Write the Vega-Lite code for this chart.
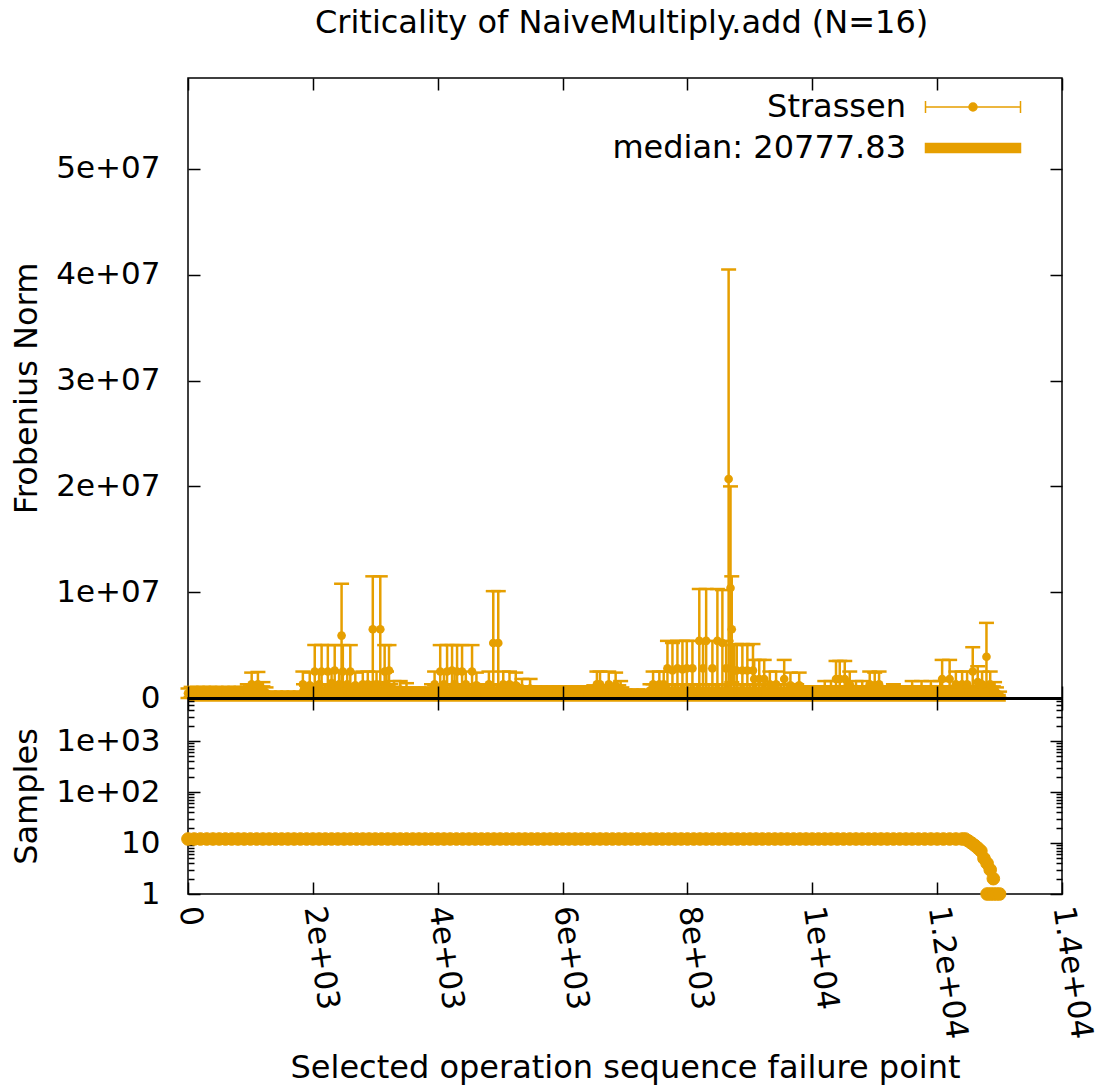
{
"$schema":"https://vega.github.io/schema/vega-lite/v6.json",
"background":"white",
"padding":{"left":10,"top":6,"right":0,"bottom":5},
"title":{"text":"Criticality of NaiveMultiply.add (N=16)","fontSize":32,"font":"DejaVu Sans","fontWeight":"normal","offset":37,"dx":68,"color":"black","anchor":"middle"},
"config":{
 "view":{"stroke":"black","strokeWidth":1.5},
 "axis":{"labelFont":"DejaVu Sans","titleFont":"DejaVu Sans","labelFontSize":31,"titleFontSize":32,"titleFontWeight":"normal","labelColor":"black","titleColor":"black","tickColor":"black","tickWidth":1.5,"domain":false,"grid":false,"labelOverlap":false,"labelFlush":false,"labelBound":false}
},
"datasets":{
"median":[{"x0":0,"x1":13100,"v":20777.83,"series":"median: 20777.83"}],
"errs":[
{"x":0,"m":4.5e5,"lo":0,"hi":9e5},{"x":50,"m":5e5,"lo":1e5,"hi":1.05e6},{"x":100,"m":4.5e5,"lo":0,"hi":9e5},{"x":150,"m":5e5,"lo":1e5,"hi":1.05e6},{"x":200,"m":4.5e5,"lo":0,"hi":9e5},{"x":250,"m":5e5,"lo":1e5,"hi":1.05e6},{"x":300,"m":4.5e5,"lo":0,"hi":9e5},{"x":350,"m":5e5,"lo":1e5,"hi":1.05e6},{"x":400,"m":4.5e5,"lo":0,"hi":9e5},{"x":450,"m":5e5,"lo":1e5,"hi":1.05e6},
{"x":500,"m":4.5e5,"lo":0,"hi":9e5},{"x":550,"m":5e5,"lo":1e5,"hi":1.05e6},{"x":600,"m":4.5e5,"lo":0,"hi":9e5},{"x":650,"m":5e5,"lo":1e5,"hi":1.05e6},{"x":700,"m":4.5e5,"lo":0,"hi":9e5},{"x":750,"m":5e5,"lo":1e5,"hi":1.05e6},{"x":800,"m":4.5e5,"lo":0,"hi":9e5},{"x":850,"m":5e5,"lo":1e5,"hi":1.05e6},{"x":900,"m":4.5e5,"lo":0,"hi":9e5},{"x":950,"m":5e5,"lo":1e5,"hi":1.05e6},
{"x":1000,"m":6e5,"lo":1e5,"hi":1.1e6},{"x":1050,"m":5e5,"lo":0,"hi":1e6},{"x":1100,"m":6e5,"lo":1e5,"hi":1.1e6},{"x":1150,"m":5e5,"lo":0,"hi":1e6},{"x":1200,"m":6e5,"lo":1e5,"hi":1.1e6},{"x":1250,"m":5e5,"lo":0,"hi":1e6},
{"x":1300,"m":3e5,"lo":0,"hi":6e5},{"x":1350,"m":2.5e5,"lo":0,"hi":5e5},{"x":1400,"m":3e5,"lo":0,"hi":6e5},{"x":1450,"m":2.5e5,"lo":0,"hi":5e5},{"x":1500,"m":3e5,"lo":0,"hi":6e5},{"x":1550,"m":2.5e5,"lo":0,"hi":5e5},{"x":1600,"m":3e5,"lo":0,"hi":6e5},{"x":1650,"m":2.5e5,"lo":0,"hi":5e5},{"x":1700,"m":3e5,"lo":0,"hi":6e5},{"x":1750,"m":2.5e5,"lo":0,"hi":5e5},{"x":1800,"m":3e5,"lo":0,"hi":6e5},
{"x":1850,"m":7e5,"lo":1e5,"hi":1.3e6},{"x":1900,"m":6e5,"lo":0,"hi":1.2e6},{"x":1950,"m":7e5,"lo":1e5,"hi":1.3e6},{"x":2000,"m":6e5,"lo":0,"hi":1.2e6},{"x":2050,"m":7e5,"lo":1e5,"hi":1.3e6},{"x":2100,"m":6e5,"lo":0,"hi":1.2e6},{"x":2150,"m":7e5,"lo":1e5,"hi":1.3e6},{"x":2200,"m":6e5,"lo":0,"hi":1.2e6},{"x":2250,"m":7e5,"lo":1e5,"hi":1.3e6},{"x":2300,"m":6e5,"lo":0,"hi":1.2e6},
{"x":2350,"m":7e5,"lo":1e5,"hi":1.3e6},{"x":2400,"m":6e5,"lo":0,"hi":1.2e6},{"x":2450,"m":7e5,"lo":1e5,"hi":1.3e6},{"x":2500,"m":6e5,"lo":0,"hi":1.2e6},{"x":2550,"m":7e5,"lo":1e5,"hi":1.3e6},{"x":2600,"m":6e5,"lo":0,"hi":1.2e6},{"x":2650,"m":7e5,"lo":1e5,"hi":1.3e6},{"x":2700,"m":6e5,"lo":0,"hi":1.2e6},{"x":2750,"m":7e5,"lo":1e5,"hi":1.3e6},{"x":2800,"m":6e5,"lo":0,"hi":1.2e6},
{"x":2850,"m":7e5,"lo":1e5,"hi":1.3e6},{"x":2900,"m":6e5,"lo":0,"hi":1.2e6},{"x":2950,"m":7e5,"lo":1e5,"hi":1.3e6},{"x":3000,"m":6e5,"lo":0,"hi":1.2e6},{"x":3050,"m":7e5,"lo":1e5,"hi":1.3e6},{"x":3100,"m":6e5,"lo":0,"hi":1.2e6},{"x":3150,"m":7e5,"lo":1e5,"hi":1.3e6},{"x":3200,"m":6e5,"lo":0,"hi":1.2e6},{"x":3250,"m":7e5,"lo":1e5,"hi":1.3e6},
{"x":3300,"m":5e5,"lo":0,"hi":1e6},{"x":3350,"m":4.5e5,"lo":0,"hi":9e5},{"x":3400,"m":5e5,"lo":0,"hi":1e6},{"x":3450,"m":4.5e5,"lo":0,"hi":9e5},{"x":3500,"m":5e5,"lo":0,"hi":1e6},{"x":3550,"m":4.5e5,"lo":0,"hi":9e5},{"x":3600,"m":5e5,"lo":0,"hi":1e6},{"x":3650,"m":4.5e5,"lo":0,"hi":9e5},{"x":3700,"m":5e5,"lo":0,"hi":1e6},{"x":3750,"m":4.5e5,"lo":0,"hi":9e5},{"x":3800,"m":5e5,"lo":0,"hi":1e6},{"x":3850,"m":4.5e5,"lo":0,"hi":9e5},
{"x":3900,"m":7e5,"lo":1e5,"hi":1.3e6},{"x":3950,"m":6e5,"lo":0,"hi":1.2e6},{"x":4000,"m":7e5,"lo":1e5,"hi":1.3e6},{"x":4050,"m":6e5,"lo":0,"hi":1.2e6},{"x":4100,"m":7e5,"lo":1e5,"hi":1.3e6},{"x":4150,"m":6e5,"lo":0,"hi":1.2e6},{"x":4200,"m":7e5,"lo":1e5,"hi":1.3e6},{"x":4250,"m":6e5,"lo":0,"hi":1.2e6},{"x":4300,"m":7e5,"lo":1e5,"hi":1.3e6},{"x":4350,"m":6e5,"lo":0,"hi":1.2e6},
{"x":4400,"m":7e5,"lo":1e5,"hi":1.3e6},{"x":4450,"m":6e5,"lo":0,"hi":1.2e6},{"x":4500,"m":7e5,"lo":1e5,"hi":1.3e6},{"x":4550,"m":6e5,"lo":0,"hi":1.2e6},{"x":4600,"m":7e5,"lo":1e5,"hi":1.3e6},{"x":4650,"m":6e5,"lo":0,"hi":1.2e6},{"x":4700,"m":7e5,"lo":1e5,"hi":1.3e6},{"x":4750,"m":6e5,"lo":0,"hi":1.2e6},{"x":4800,"m":7e5,"lo":1e5,"hi":1.3e6},{"x":4850,"m":6e5,"lo":0,"hi":1.2e6},
{"x":4900,"m":7e5,"lo":1e5,"hi":1.3e6},{"x":4950,"m":6e5,"lo":0,"hi":1.2e6},{"x":5000,"m":7e5,"lo":1e5,"hi":1.3e6},{"x":5050,"m":6e5,"lo":0,"hi":1.2e6},{"x":5100,"m":7e5,"lo":1e5,"hi":1.3e6},{"x":5150,"m":6e5,"lo":0,"hi":1.2e6},{"x":5200,"m":7e5,"lo":1e5,"hi":1.3e6},{"x":5250,"m":6e5,"lo":0,"hi":1.2e6},
{"x":5300,"m":5e5,"lo":0,"hi":1e6},{"x":5350,"m":5.5e5,"lo":0,"hi":1.1e6},{"x":5400,"m":5e5,"lo":0,"hi":1e6},{"x":5450,"m":5.5e5,"lo":0,"hi":1.1e6},{"x":5500,"m":5e5,"lo":0,"hi":1e6},{"x":5550,"m":5.5e5,"lo":0,"hi":1.1e6},{"x":5600,"m":5e5,"lo":0,"hi":1e6},{"x":5650,"m":5.5e5,"lo":0,"hi":1.1e6},{"x":5700,"m":5e5,"lo":0,"hi":1e6},{"x":5750,"m":5.5e5,"lo":0,"hi":1.1e6},{"x":5800,"m":5e5,"lo":0,"hi":1e6},{"x":5850,"m":5.5e5,"lo":0,"hi":1.1e6},
{"x":5900,"m":5e5,"lo":0,"hi":1e6},{"x":5950,"m":5.5e5,"lo":0,"hi":1.1e6},{"x":6000,"m":5e5,"lo":0,"hi":1e6},{"x":6050,"m":5.5e5,"lo":0,"hi":1.1e6},{"x":6100,"m":5e5,"lo":0,"hi":1e6},{"x":6150,"m":5.5e5,"lo":0,"hi":1.1e6},{"x":6200,"m":5e5,"lo":0,"hi":1e6},{"x":6250,"m":5.5e5,"lo":0,"hi":1.1e6},{"x":6300,"m":5e5,"lo":0,"hi":1e6},{"x":6350,"m":5.5e5,"lo":0,"hi":1.1e6},{"x":6400,"m":5e5,"lo":0,"hi":1e6},{"x":6450,"m":5.5e5,"lo":0,"hi":1.1e6},
{"x":6500,"m":6e5,"lo":1e5,"hi":1.2e6},{"x":6550,"m":5e5,"lo":0,"hi":1e6},{"x":6600,"m":6e5,"lo":1e5,"hi":1.2e6},{"x":6650,"m":5e5,"lo":0,"hi":1e6},{"x":6700,"m":6e5,"lo":1e5,"hi":1.2e6},{"x":6750,"m":5e5,"lo":0,"hi":1e6},{"x":6800,"m":6e5,"lo":1e5,"hi":1.2e6},{"x":6850,"m":5e5,"lo":0,"hi":1e6},{"x":6900,"m":6e5,"lo":1e5,"hi":1.2e6},{"x":6950,"m":5e5,"lo":0,"hi":1e6},
{"x":7000,"m":4e5,"lo":0,"hi":8e5},{"x":7050,"m":3.5e5,"lo":0,"hi":7e5},{"x":7100,"m":4e5,"lo":0,"hi":8e5},{"x":7150,"m":3.5e5,"lo":0,"hi":7e5},{"x":7200,"m":4e5,"lo":0,"hi":8e5},{"x":7250,"m":3.5e5,"lo":0,"hi":7e5},{"x":7300,"m":4e5,"lo":0,"hi":8e5},{"x":7350,"m":3.5e5,"lo":0,"hi":7e5},
{"x":7400,"m":7e5,"lo":1e5,"hi":1.3e6},{"x":7450,"m":6.5e5,"lo":0,"hi":1.3e6},{"x":7500,"m":7e5,"lo":1e5,"hi":1.3e6},{"x":7550,"m":6.5e5,"lo":0,"hi":1.3e6},{"x":7600,"m":7e5,"lo":1e5,"hi":1.3e6},{"x":7650,"m":6.5e5,"lo":0,"hi":1.3e6},{"x":7700,"m":7e5,"lo":1e5,"hi":1.3e6},{"x":7750,"m":6.5e5,"lo":0,"hi":1.3e6},{"x":7800,"m":7e5,"lo":1e5,"hi":1.3e6},{"x":7850,"m":6.5e5,"lo":0,"hi":1.3e6},
{"x":7900,"m":7e5,"lo":1e5,"hi":1.3e6},{"x":7950,"m":6.5e5,"lo":0,"hi":1.3e6},{"x":8000,"m":7e5,"lo":1e5,"hi":1.3e6},{"x":8050,"m":6.5e5,"lo":0,"hi":1.3e6},{"x":8100,"m":7e5,"lo":1e5,"hi":1.3e6},{"x":8150,"m":6.5e5,"lo":0,"hi":1.3e6},{"x":8200,"m":7e5,"lo":1e5,"hi":1.3e6},{"x":8250,"m":6.5e5,"lo":0,"hi":1.3e6},{"x":8300,"m":7e5,"lo":1e5,"hi":1.3e6},{"x":8350,"m":6.5e5,"lo":0,"hi":1.3e6},
{"x":8400,"m":7e5,"lo":1e5,"hi":1.3e6},{"x":8450,"m":6.5e5,"lo":0,"hi":1.3e6},{"x":8500,"m":7e5,"lo":1e5,"hi":1.3e6},{"x":8550,"m":6.5e5,"lo":0,"hi":1.3e6},{"x":8600,"m":7e5,"lo":1e5,"hi":1.3e6},{"x":8650,"m":6.5e5,"lo":0,"hi":1.3e6},{"x":8700,"m":7e5,"lo":1e5,"hi":1.3e6},{"x":8750,"m":6.5e5,"lo":0,"hi":1.3e6},{"x":8800,"m":7e5,"lo":1e5,"hi":1.3e6},{"x":8850,"m":6.5e5,"lo":0,"hi":1.3e6},
{"x":8900,"m":7e5,"lo":1e5,"hi":1.3e6},{"x":8950,"m":6.5e5,"lo":0,"hi":1.3e6},{"x":9000,"m":7e5,"lo":1e5,"hi":1.3e6},{"x":9050,"m":6.5e5,"lo":0,"hi":1.3e6},{"x":9100,"m":7e5,"lo":1e5,"hi":1.3e6},{"x":9150,"m":6.5e5,"lo":0,"hi":1.3e6},{"x":9200,"m":7e5,"lo":1e5,"hi":1.3e6},{"x":9250,"m":6.5e5,"lo":0,"hi":1.3e6},{"x":9300,"m":7e5,"lo":1e5,"hi":1.3e6},{"x":9350,"m":6.5e5,"lo":0,"hi":1.3e6},
{"x":9400,"m":7e5,"lo":1e5,"hi":1.3e6},{"x":9450,"m":6.5e5,"lo":0,"hi":1.3e6},{"x":9500,"m":7e5,"lo":1e5,"hi":1.3e6},{"x":9550,"m":6.5e5,"lo":0,"hi":1.3e6},{"x":9600,"m":7e5,"lo":1e5,"hi":1.3e6},{"x":9650,"m":6.5e5,"lo":0,"hi":1.3e6},{"x":9700,"m":7e5,"lo":1e5,"hi":1.3e6},{"x":9750,"m":6.5e5,"lo":0,"hi":1.3e6},
{"x":9800,"m":5.5e5,"lo":0,"hi":1.1e6},{"x":9850,"m":5e5,"lo":0,"hi":1e6},{"x":9900,"m":5.5e5,"lo":0,"hi":1.1e6},{"x":9950,"m":5e5,"lo":0,"hi":1e6},{"x":10000,"m":5.5e5,"lo":0,"hi":1.1e6},{"x":10050,"m":5e5,"lo":0,"hi":1e6},{"x":10100,"m":5.5e5,"lo":0,"hi":1.1e6},{"x":10150,"m":5e5,"lo":0,"hi":1e6},{"x":10200,"m":5.5e5,"lo":0,"hi":1.1e6},{"x":10250,"m":5e5,"lo":0,"hi":1e6},
{"x":10300,"m":5.5e5,"lo":0,"hi":1.1e6},{"x":10350,"m":5e5,"lo":0,"hi":1e6},{"x":10400,"m":5.5e5,"lo":0,"hi":1.1e6},{"x":10450,"m":5e5,"lo":0,"hi":1e6},{"x":10500,"m":5.5e5,"lo":0,"hi":1.1e6},{"x":10550,"m":5e5,"lo":0,"hi":1e6},{"x":10600,"m":5.5e5,"lo":0,"hi":1.1e6},{"x":10650,"m":5e5,"lo":0,"hi":1e6},{"x":10700,"m":5.5e5,"lo":0,"hi":1.1e6},{"x":10750,"m":5e5,"lo":0,"hi":1e6},
{"x":10800,"m":5.5e5,"lo":0,"hi":1.1e6},{"x":10850,"m":5e5,"lo":0,"hi":1e6},{"x":10900,"m":5.5e5,"lo":0,"hi":1.1e6},{"x":10950,"m":5e5,"lo":0,"hi":1e6},{"x":11000,"m":5.5e5,"lo":0,"hi":1.1e6},{"x":11050,"m":5e5,"lo":0,"hi":1e6},{"x":11100,"m":5.5e5,"lo":0,"hi":1.1e6},{"x":11150,"m":5e5,"lo":0,"hi":1e6},{"x":11200,"m":5.5e5,"lo":0,"hi":1.1e6},{"x":11250,"m":5e5,"lo":0,"hi":1e6},
{"x":11300,"m":5.5e5,"lo":0,"hi":1.1e6},{"x":11350,"m":5e5,"lo":0,"hi":1e6},{"x":11400,"m":5.5e5,"lo":0,"hi":1.1e6},{"x":11450,"m":5e5,"lo":0,"hi":1e6},{"x":11500,"m":5.5e5,"lo":0,"hi":1.1e6},{"x":11550,"m":5e5,"lo":0,"hi":1e6},{"x":11600,"m":5.5e5,"lo":0,"hi":1.1e6},{"x":11650,"m":5e5,"lo":0,"hi":1e6},{"x":11700,"m":5.5e5,"lo":0,"hi":1.1e6},{"x":11750,"m":5e5,"lo":0,"hi":1e6},
{"x":11800,"m":5.5e5,"lo":0,"hi":1.1e6},{"x":11850,"m":5e5,"lo":0,"hi":1e6},{"x":11900,"m":5.5e5,"lo":0,"hi":1.1e6},{"x":11950,"m":5e5,"lo":0,"hi":1e6},{"x":12000,"m":5.5e5,"lo":0,"hi":1.1e6},{"x":12050,"m":5e5,"lo":0,"hi":1e6},{"x":12100,"m":5.5e5,"lo":0,"hi":1.1e6},{"x":12150,"m":5e5,"lo":0,"hi":1e6},{"x":12200,"m":5.5e5,"lo":0,"hi":1.1e6},{"x":12250,"m":5e5,"lo":0,"hi":1e6},
{"x":12300,"m":5.5e5,"lo":0,"hi":1.1e6},{"x":12350,"m":5e5,"lo":0,"hi":1e6},{"x":12400,"m":5.5e5,"lo":0,"hi":1.1e6},{"x":12450,"m":5e5,"lo":0,"hi":1e6},{"x":12500,"m":5.5e5,"lo":0,"hi":1.1e6},{"x":12550,"m":5e5,"lo":0,"hi":1e6},{"x":12600,"m":5.5e5,"lo":0,"hi":1.1e6},{"x":12650,"m":5e5,"lo":0,"hi":1e6},{"x":12700,"m":5.5e5,"lo":0,"hi":1.1e6},{"x":12750,"m":5e5,"lo":0,"hi":1e6},
{"x":12800,"m":5.5e5,"lo":0,"hi":1.1e6},{"x":12850,"m":5e5,"lo":0,"hi":1e6},{"x":12900,"m":5.5e5,"lo":0,"hi":1.1e6},{"x":12950,"m":5e5,"lo":0,"hi":1e6},{"x":13000,"m":3e5,"lo":0,"hi":6e5},
{"x":1020,"m":1.3e6,"lo":2e5,"hi":2.4e6},{"x":1120,"m":1.3e6,"lo":2e5,"hi":2.46e6},{"x":1200,"m":8e5,"lo":1e5,"hi":1.5e6},{"x":950,"m":7e5,"lo":1e5,"hi":1.3e6},
{"x":1840,"m":1.3e6,"lo":1e5,"hi":2.5e6},{"x":1950,"m":1.2e6,"lo":0,"hi":2.4e6},{"x":2030,"m":2.5e6,"lo":0,"hi":5e6},{"x":2100,"m":1.3e6,"lo":1e5,"hi":2.5e6},{"x":2140,"m":2.5e6,"lo":0,"hi":5e6},{"x":2240,"m":2.5e6,"lo":0,"hi":5e6},{"x":2300,"m":1.4e6,"lo":2e5,"hi":2.6e6},{"x":2350,"m":2.6e6,"lo":2e5,"hi":5e6},{"x":2420,"m":1.3e6,"lo":1e5,"hi":2.5e6},{"x":2460,"m":5.9e6,"lo":1e6,"hi":1.08e7},{"x":2480,"m":2.5e6,"lo":0,"hi":5e6},{"x":2550,"m":1.3e6,"lo":1e5,"hi":2.5e6},{"x":2600,"m":2.5e6,"lo":0,"hi":5e6},{"x":2680,"m":1.2e6,"lo":0,"hi":2.4e6},
{"x":2800,"m":1.3e6,"lo":1e5,"hi":2.5e6},{"x":2880,"m":1.3e6,"lo":1e5,"hi":2.5e6},{"x":2960,"m":6.5e6,"lo":1.5e6,"hi":1.15e7},{"x":3020,"m":1.3e6,"lo":1e5,"hi":2.5e6},{"x":3080,"m":6.5e6,"lo":1.5e6,"hi":1.15e7},{"x":3150,"m":2.5e6,"lo":0,"hi":5e6},{"x":3180,"m":1.3e6,"lo":1e5,"hi":2.5e6},{"x":3220,"m":2.6e6,"lo":2e5,"hi":5e6},{"x":3300,"m":8e5,"lo":0,"hi":1.6e6},{"x":3400,"m":8e5,"lo":0,"hi":1.6e6},{"x":3500,"m":7e5,"lo":0,"hi":1.4e6},
{"x":3950,"m":1.3e6,"lo":1e5,"hi":2.5e6},{"x":4040,"m":2.5e6,"lo":0,"hi":5e6},{"x":4100,"m":1.3e6,"lo":1e5,"hi":2.5e6},{"x":4150,"m":2.5e6,"lo":0,"hi":5e6},{"x":4230,"m":2.6e6,"lo":2e5,"hi":5e6},{"x":4270,"m":1.3e6,"lo":1e5,"hi":2.5e6},{"x":4310,"m":2.5e6,"lo":0,"hi":5e6},{"x":4390,"m":2.5e6,"lo":0,"hi":5e6},{"x":4450,"m":1.3e6,"lo":1e5,"hi":2.5e6},{"x":4550,"m":2.5e6,"lo":0,"hi":5e6},{"x":4620,"m":1.2e6,"lo":0,"hi":2.4e6},
{"x":4820,"m":1.3e6,"lo":1e5,"hi":2.5e6},{"x":4890,"m":5.2e6,"lo":3e5,"hi":1.01e7},{"x":4970,"m":5.2e6,"lo":3e5,"hi":1.01e7},{"x":5050,"m":1.3e6,"lo":1e5,"hi":2.5e6},{"x":5150,"m":1.3e6,"lo":1e5,"hi":2.5e6},{"x":5250,"m":1.2e6,"lo":0,"hi":2.4e6},{"x":5350,"m":9e5,"lo":0,"hi":1.8e6},{"x":5480,"m":9e5,"lo":0,"hi":1.8e6},
{"x":6550,"m":1.3e6,"lo":1e5,"hi":2.5e6},{"x":6600,"m":1.3e6,"lo":1e5,"hi":2.5e6},{"x":6740,"m":1.3e6,"lo":1e5,"hi":2.5e6},{"x":6850,"m":1.2e6,"lo":0,"hi":2.4e6},{"x":6930,"m":8e5,"lo":0,"hi":1.6e6},
{"x":7450,"m":1.3e6,"lo":1e5,"hi":2.5e6},{"x":7550,"m":1.3e6,"lo":1e5,"hi":2.5e6},{"x":7620,"m":1.3e6,"lo":1e5,"hi":2.5e6},{"x":7680,"m":2.8e6,"lo":2e5,"hi":5.4e6},{"x":7760,"m":2.6e6,"lo":0,"hi":5.2e6},{"x":7840,"m":2.8e6,"lo":2e5,"hi":5.4e6},{"x":7920,"m":2.7e6,"lo":0,"hi":5.4e6},{"x":7990,"m":2.8e6,"lo":2e5,"hi":5.4e6},{"x":8080,"m":2.8e6,"lo":2e5,"hi":5.4e6},{"x":8190,"m":5.4e6,"lo":5e5,"hi":1.03e7},{"x":8250,"m":2.8e6,"lo":2e5,"hi":5.4e6},{"x":8300,"m":5.4e6,"lo":5e5,"hi":1.03e7},{"x":8400,"m":2.8e6,"lo":2e5,"hi":5.4e6},{"x":8480,"m":5.4e6,"lo":5e5,"hi":1.03e7},{"x":8560,"m":5.2e6,"lo":2e5,"hi":1.02e7},{"x":8620,"m":2.8e6,"lo":2e5,"hi":5.4e6},
{"x":8660,"m":2.07e7,"lo":9e5,"hi":4.05e7},{"x":8690,"m":1.04e7,"lo":8e5,"hi":2e7},{"x":8710,"m":6.5e6,"lo":1.5e6,"hi":1.15e7},{"x":8750,"m":2.6e6,"lo":2e5,"hi":5e6},{"x":8790,"m":2.6e6,"lo":2e5,"hi":5.1e6},{"x":8880,"m":2.6e6,"lo":2e5,"hi":5.1e6},{"x":8960,"m":2.6e6,"lo":2e5,"hi":5e6},{"x":9050,"m":2.6e6,"lo":2e5,"hi":5.1e6},{"x":9070,"m":1.8e6,"lo":0,"hi":3.6e6},{"x":9150,"m":1.8e6,"lo":0,"hi":3.6e6},{"x":9230,"m":1.8e6,"lo":0,"hi":3.6e6},{"x":9320,"m":1.3e6,"lo":1e5,"hi":2.5e6},{"x":9420,"m":1.3e6,"lo":1e5,"hi":2.5e6},{"x":9550,"m":1.8e6,"lo":0,"hi":3.6e6},{"x":9650,"m":1.2e6,"lo":0,"hi":2.4e6},{"x":9790,"m":1.2e6,"lo":0,"hi":2.4e6},{"x":9950,"m":6e5,"lo":1e5,"hi":1.1e6},{"x":10100,"m":6e5,"lo":1e5,"hi":1.1e6},
{"x":10200,"m":8e5,"lo":0,"hi":1.6e6},{"x":10300,"m":8e5,"lo":0,"hi":1.6e6},{"x":10380,"m":1.8e6,"lo":0,"hi":3.5e6},{"x":10440,"m":1.8e6,"lo":1e5,"hi":3.5e6},{"x":10520,"m":1.8e6,"lo":0,"hi":3.5e6},{"x":10600,"m":1.3e6,"lo":1e5,"hi":2.5e6},{"x":10700,"m":8e5,"lo":0,"hi":1.6e6},{"x":10800,"m":8e5,"lo":0,"hi":1.6e6},{"x":10920,"m":1.3e6,"lo":1e5,"hi":2.5e6},{"x":11000,"m":1.2e6,"lo":0,"hi":2.4e6},{"x":11070,"m":1.3e6,"lo":1e5,"hi":2.5e6},{"x":11300,"m":7e5,"lo":0,"hi":1.3e6},{"x":11600,"m":8e5,"lo":0,"hi":1.6e6},{"x":11750,"m":8e5,"lo":0,"hi":1.6e6},{"x":11900,"m":8e5,"lo":0,"hi":1.6e6},{"x":12050,"m":8e5,"lo":0,"hi":1.6e6},
{"x":12080,"m":1.8e6,"lo":0,"hi":3.6e6},{"x":12200,"m":1.8e6,"lo":0,"hi":3.6e6},{"x":12300,"m":1.3e6,"lo":1e5,"hi":2.5e6},{"x":12400,"m":1.3e6,"lo":1e5,"hi":2.5e6},{"x":12480,"m":1.3e6,"lo":1e5,"hi":2.5e6},{"x":12570,"m":2.5e6,"lo":2e5,"hi":4.8e6},{"x":12650,"m":1.5e6,"lo":0,"hi":3e6},{"x":12720,"m":1.3e6,"lo":1e5,"hi":2.5e6},{"x":12790,"m":3.9e6,"lo":7e5,"hi":7.1e6},{"x":12850,"m":1.3e6,"lo":1e5,"hi":2.5e6},{"x":12920,"m":8e5,"lo":0,"hi":1.5e6}
],
"samples":[
{"x":0,"n":12},{"x":100,"n":12},{"x":200,"n":12},{"x":300,"n":12},{"x":400,"n":12},{"x":500,"n":12},{"x":600,"n":12},{"x":700,"n":12},{"x":800,"n":12},{"x":900,"n":12},
{"x":1000,"n":12},{"x":1100,"n":12},{"x":1200,"n":12},{"x":1300,"n":12},{"x":1400,"n":12},{"x":1500,"n":12},{"x":1600,"n":12},{"x":1700,"n":12},{"x":1800,"n":12},{"x":1900,"n":12},
{"x":2000,"n":12},{"x":2100,"n":12},{"x":2200,"n":12},{"x":2300,"n":12},{"x":2400,"n":12},{"x":2500,"n":12},{"x":2600,"n":12},{"x":2700,"n":12},{"x":2800,"n":12},{"x":2900,"n":12},
{"x":3000,"n":12},{"x":3100,"n":12},{"x":3200,"n":12},{"x":3300,"n":12},{"x":3400,"n":12},{"x":3500,"n":12},{"x":3600,"n":12},{"x":3700,"n":12},{"x":3800,"n":12},{"x":3900,"n":12},
{"x":4000,"n":12},{"x":4100,"n":12},{"x":4200,"n":12},{"x":4300,"n":12},{"x":4400,"n":12},{"x":4500,"n":12},{"x":4600,"n":12},{"x":4700,"n":12},{"x":4800,"n":12},{"x":4900,"n":12},
{"x":5000,"n":12},{"x":5100,"n":12},{"x":5200,"n":12},{"x":5300,"n":12},{"x":5400,"n":12},{"x":5500,"n":12},{"x":5600,"n":12},{"x":5700,"n":12},{"x":5800,"n":12},{"x":5900,"n":12},
{"x":6000,"n":12},{"x":6100,"n":12},{"x":6200,"n":12},{"x":6300,"n":12},{"x":6400,"n":12},{"x":6500,"n":12},{"x":6600,"n":12},{"x":6700,"n":12},{"x":6800,"n":12},{"x":6900,"n":12},
{"x":7000,"n":12},{"x":7100,"n":12},{"x":7200,"n":12},{"x":7300,"n":12},{"x":7400,"n":12},{"x":7500,"n":12},{"x":7600,"n":12},{"x":7700,"n":12},{"x":7800,"n":12},{"x":7900,"n":12},
{"x":8000,"n":12},{"x":8100,"n":12},{"x":8200,"n":12},{"x":8300,"n":12},{"x":8400,"n":12},{"x":8500,"n":12},{"x":8600,"n":12},{"x":8700,"n":12},{"x":8800,"n":12},{"x":8900,"n":12},
{"x":9000,"n":12},{"x":9100,"n":12},{"x":9200,"n":12},{"x":9300,"n":12},{"x":9400,"n":12},{"x":9500,"n":12},{"x":9600,"n":12},{"x":9700,"n":12},{"x":9800,"n":12},{"x":9900,"n":12},
{"x":10000,"n":12},{"x":10100,"n":12},{"x":10200,"n":12},{"x":10300,"n":12},{"x":10400,"n":12},{"x":10500,"n":12},{"x":10600,"n":12},{"x":10700,"n":12},{"x":10800,"n":12},{"x":10900,"n":12},
{"x":11000,"n":12},{"x":11100,"n":12},{"x":11200,"n":12},{"x":11300,"n":12},{"x":11400,"n":12},{"x":11500,"n":12},{"x":11600,"n":12},{"x":11700,"n":12},{"x":11800,"n":12},{"x":11900,"n":12},
{"x":12000,"n":12},{"x":12100,"n":12},{"x":12200,"n":12},{"x":12300,"n":12},{"x":12400,"n":12},{"x":12450,"n":12},{"x":12500,"n":11},{"x":12550,"n":10},{"x":12600,"n":9},{"x":12650,"n":8},
{"x":12700,"n":7},{"x":12750,"n":5},{"x":12800,"n":4},{"x":12850,"n":3},{"x":12900,"n":2},
{"x":12800,"n":1},{"x":12850,"n":1},{"x":12900,"n":1},{"x":12950,"n":1},{"x":13000,"n":1}
]
},
"spacing":0,
"bounds":"flush",
"vconcat":[
{
 "width":874,"height":620,
 "data":{"name":"errs"},
 "layer":[
  {"data":{"name":"median"},
   "mark":{"type":"rule","strokeWidth":8,"strokeCap":"butt"},
   "encoding":{
    "x":{"field":"x0","type":"quantitative","scale":{"domain":[0,14000],"nice":false},"axis":null},
    "x2":{"field":"x1"},
    "y":{"field":"v","type":"quantitative","scale":{"domain":[0,58600000],"nice":false},"axis":null},
    "color":{"field":"series","type":"nominal","scale":{"domain":["Strassen","median: 20777.83"],"range":["#E69F00","#E69F00"]},
     "legend":{"orient":"none","legendX":769,"legendY":13,"title":null,"padding":0,"rowPadding":9,"symbolSize":400,"symbolStrokeWidth":1.5,"labelFont":"DejaVu Sans","labelFontSize":32,"labelColor":"black","labelAlign":"right","labelOffset":-83,"labelLimit":0,
      "encode":{"symbols":{"update":{"shape":{"signal":"datum.value === 'Strassen' ? 'M-4.75,0H4.75M-4.75,-0.6V0.6M4.75,-0.6V0.6M-0.4,0A0.4,0.4,0,1,1,0.4,0A0.4,0.4,0,1,1,-0.4,0Z' : 'M-4.75,-0.45H4.75V0.45H-4.75Z'"},"fill":{"value":"#E69F00"},"stroke":{"value":"#E69F00"},"strokeWidth":{"value":1.5},"opacity":{"value":1},"fillOpacity":{"value":1},"strokeOpacity":{"value":1}}}}}}
   }},
  {"mark":{"type":"rule","color":"#E69F00","strokeWidth":2.5},
   "encoding":{
    "x":{"field":"x","type":"quantitative","axis":{"orient":"bottom","values":[0,2000,4000,6000,8000,10000,12000,14000],"labels":false,"tickSize":-12,"domain":true,"domainWidth":3,"domainColor":"black","title":null,"zindex":1}},
    "y":{"field":"lo","type":"quantitative","axis":{"orient":"left","values":[0,10000000,20000000,30000000,40000000,50000000],"labelExpr":"datum.value == 0 ? '0' : (datum.value/10000000) + 'e+07'","tickSize":-12,"labelPadding":40,"title":"Frobenius Norm","titlePadding":12}},
    "y2":{"field":"hi"}
   }},
  {"mark":{"type":"tick","orient":"horizontal","size":15,"thickness":2.5,"color":"#E69F00","opacity":1},
   "encoding":{
    "x":{"field":"x","type":"quantitative","axis":{"orient":"top","values":[0,2000,4000,6000,8000,10000,12000,14000],"labels":false,"tickSize":-12,"title":null}},
    "y":{"field":"hi","type":"quantitative","axis":{"orient":"right","values":[0,10000000,20000000,30000000,40000000,50000000],"labels":false,"tickSize":-12,"title":null}}
   }},
  {"mark":{"type":"tick","orient":"horizontal","size":15,"thickness":2.5,"color":"#E69F00","opacity":1},
   "encoding":{
    "x":{"field":"x","type":"quantitative","axis":null},
    "y":{"field":"lo","type":"quantitative","axis":null}
   }},
  {"mark":{"type":"point","shape":"circle","filled":true,"size":75,"color":"#E69F00","opacity":1},
   "encoding":{
    "x":{"field":"x","type":"quantitative","axis":null},
    "y":{"field":"m","type":"quantitative","axis":null}
   }}
 ],
 "resolve":{"axis":{"x":"independent","y":"independent"}}
},
{
 "width":874,"height":196,
 "data":{"name":"samples"},
 "layer":[
  {"mark":{"type":"point","shape":"circle","filled":true,"size":160,"color":"#E69F00","opacity":1},
   "encoding":{
    "x":{"field":"x","type":"quantitative","scale":{"domain":[0,14000],"nice":false},"axis":{"orient":"bottom","values":[0,2000,4000,6000,8000,10000,12000,14000],"labelExpr":"datum.value == 0 ? '0' : datum.value < 10000 ? (datum.value/1000) + 'e+03' : (datum.value/10000) + 'e+04'","labelAngle":82,"labelAlign":"left","labelBaseline":"middle","tickSize":-12,"labelPadding":24,"title":"Selected operation sequence failure point","titlePadding":12}},
    "y":{"field":"n","type":"quantitative","scale":{"type":"log","domain":[1,7000],"nice":false},"axis":{"orient":"left","values":[1,2,3,4,5,6,7,8,9,10,20,30,40,50,60,70,80,90,100,200,300,400,500,600,700,800,900,1000,2000,3000,4000,5000,6000],"labelExpr":"datum.value == 1 ? '1' : datum.value == 10 ? '10' : datum.value == 100 ? '1e+02' : datum.value == 1000 ? '1e+03' : ''","tickSize":{"condition":{"test":"datum.value == 1 || datum.value == 10 || datum.value == 100 || datum.value == 1000","value":-12},"value":-6},"labelPadding":40,"title":"Samples","titlePadding":12}}
   }},
  {"mark":{"type":"point","shape":"circle","filled":false,"size":160,"color":"#E69F00","strokeWidth":1,"opacity":1},
   "encoding":{
    "x":{"field":"x","type":"quantitative","axis":{"orient":"top","values":[0,2000,4000,6000,8000,10000,12000,14000],"labels":false,"tickSize":-12,"title":null}},
    "y":{"field":"n","type":"quantitative","axis":{"orient":"right","values":[1,2,3,4,5,6,7,8,9,10,20,30,40,50,60,70,80,90,100,200,300,400,500,600,700,800,900,1000,2000,3000,4000,5000,6000],"labels":false,"tickSize":{"condition":{"test":"datum.value == 1 || datum.value == 10 || datum.value == 100 || datum.value == 1000","value":-12},"value":-6},"title":null}}
   }}
 ],
 "resolve":{"axis":{"x":"independent","y":"independent"}}
}
]
}
